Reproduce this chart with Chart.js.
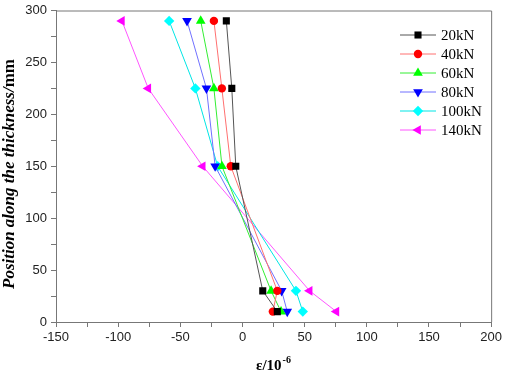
<!DOCTYPE html>
<html>
<head>
<meta charset="utf-8">
<script src="https://cdn.jsdelivr.net/npm/chart.js@4/dist/chart.umd.min.js"></script>
<style>
    html, body { margin: 0; padding: 0; background: #fff; }
    #wrap { width: 505px; height: 372px; position: relative; }
</style>
</head>
<body>
<div id="wrap"><canvas id="strainChart"></canvas></div>
<script>
// thickness positions (mm), top to bottom
const positions = [290, 225, 150, 30, 10];

// strain (x 10^-6) for each load
const strain20kN = [-13, -8.6, -5.4, 16.3, 28];
const strain40kN = [-23, -16.6, -9.4, 28, 24.4];
const strain60kN = [-33.6, -23, -16.5, 23, 31];
const strain80kN = [-44.6, -29, -22, 31.5, 36];
const strain100kN = [-59, -37.9, -20, 43, 48.5];
const strain140kN = [-97, -75.8, -32, 54, 75.5];

const loadLabels = ['20kN', '40kN', '60kN', '80kN', '100kN', '140kN'];

const xTicks = [-150, -100, -50, 0, 50, 100, 150, 200];
const yTicks = [0, 50, 100, 150, 200, 250, 300];

(function () {
    'use strict';

    const series = [strain20kN, strain40kN, strain60kN, strain80kN, strain100kN, strain140kN];
    const styles = [
        { line: '#555555', fill: '#000000', shape: 'rect', r: 5, rot: 0 },
        { line: '#ff7070', fill: '#ff0000', shape: 'circle', r: 4.2, rot: 0 },
        { line: '#33ee33', fill: '#00ff00', shape: 'triangle', r: 5.6, rot: 0 },
        { line: '#7070ff', fill: '#0000ff', shape: 'triangle', r: 5.6, rot: 180 },
        { line: '#00e5e5', fill: '#00ffff', shape: 'rectRot', r: 5.2, rot: 0 },
        { line: '#ff55ff', fill: '#ff00ff', shape: 'triangle', r: 5.6, rot: 270 }
    ];

    const datasets = series.map((vals, i) => ({
        label: loadLabels[i],
        data: vals.map((v, k) => ({ x: v, y: positions[k] })),
        showLine: true,
        borderColor: styles[i].line,
        borderWidth: 1,
        pointStyle: styles[i].shape,
        pointRotation: styles[i].rot,
        pointRadius: styles[i].r,
        pointBackgroundColor: styles[i].fill,
        pointBorderColor: styles[i].fill,
        pointBorderWidth: 0,
        tension: 0
    }));

    // frame, legend and axis titles
    const decorations = {
        id: 'decorations',
        afterDraw(chart) {
            const ctx = chart.ctx;
            const area = chart.chartArea;
            ctx.save();

            ctx.strokeStyle = '#777';
            ctx.lineWidth = 1;
            ctx.beginPath();
            ctx.moveTo(area.left, area.top + 0.5);
            ctx.lineTo(area.right + 0.5, area.top + 0.5);
            ctx.lineTo(area.right + 0.5, area.bottom);
            ctx.stroke();

            // legend
            styles.forEach((s, i) => {
                const y = 35 + i * 19;
                ctx.strokeStyle = s.line;
                ctx.lineWidth = 1;
                ctx.beginPath();
                ctx.moveTo(400, y);
                ctx.lineTo(436, y);
                ctx.stroke();
                ctx.fillStyle = s.fill;
                ctx.strokeStyle = s.fill;
                Chart.helpers.drawPoint(ctx, { pointStyle: s.shape, rotation: s.rot, radius: s.r, borderWidth: 0 }, 418, y);
                ctx.fillStyle = '#000';
                ctx.font = '15px "Liberation Serif", serif';
                ctx.textAlign = 'left';
                ctx.textBaseline = 'middle';
                ctx.fillText(loadLabels[i], 441, y + 1);
            });

            // y title, mixed style
            const partA = 'Position along the thickness/';
            const partB = 'mm';
            const fontA = 'italic bold 17px "Liberation Serif", serif';
            const fontB = 'bold 17px "Liberation Serif", serif';
            ctx.font = fontA;
            const wA = ctx.measureText(partA).width;
            ctx.font = fontB;
            const wB = ctx.measureText(partB).width;
            ctx.translate(14, 174);
            ctx.rotate(-Math.PI / 2);
            ctx.fillStyle = '#000';
            ctx.textBaseline = 'alphabetic';
            ctx.textAlign = 'left';
            const start = -(wA + wB) / 2;
            ctx.font = fontA;
            ctx.fillText(partA, start, 0);
            ctx.font = fontB;
            ctx.fillText(partB, start + wA, 0);
            ctx.setTransform(1, 0, 0, 1, 0, 0);

            // x title with superscript
            ctx.font = 'bold 15px "Liberation Serif", serif';
            const base = 'ε/10';
            const wBase = ctx.measureText(base).width;
            ctx.font = 'bold 10px "Liberation Serif", serif';
            const sup = '-6';
            const wSup = ctx.measureText(sup).width;
            const x0 = 273 - (wBase + wSup) / 2;
            ctx.font = 'bold 15px "Liberation Serif", serif';
            ctx.fillText(base, x0, 370);
            ctx.font = 'bold 10px "Liberation Serif", serif';
            ctx.fillText(sup, x0 + wBase + 1, 363);

            ctx.restore();
        }
    };

    document.addEventListener('DOMContentLoaded', function () {
        const canvas = document.getElementById('strainChart');
        new Chart(canvas.getContext('2d'), {
            type: 'scatter',
            data: { datasets: datasets },
            options: {
                responsive: true,
                maintainAspectRatio: false,
                animation: false,
                layout: { padding: { left: 0, right: 11, top: 0, bottom: 0 } },
                plugins: {
                    legend: { display: false },
                    tooltip: { enabled: false }
                },
                scales: {
                    x: {
                        type: 'linear',
                        min: xTicks[0],
                        max: xTicks[xTicks.length - 1],
                        afterFit(scale) { scale.height = 50; },
                        border: { color: '#777', width: 1 },
                        grid: { drawOnChartArea: false, drawTicks: true, tickLength: 5, color: '#777' },
                        ticks: {
                            stepSize: 25,
                            autoSkip: false,
                            maxRotation: 0,
                            padding: 3,
                            color: '#222',
                            font: { family: '"Liberation Sans", Arial, sans-serif', size: 13 },
                            callback: v => (xTicks.includes(v) ? v : '')
                        }
                    },
                    y: {
                        type: 'linear',
                        min: yTicks[0],
                        max: yTicks[yTicks.length - 1],
                        afterFit(scale) { scale.width = 56; },
                        border: { color: '#777', width: 1 },
                        grid: { drawOnChartArea: false, drawTicks: true, tickLength: 5, color: '#777' },
                        ticks: {
                            stepSize: 25,
                            autoSkip: false,
                            padding: 4,
                            color: '#222',
                            font: { family: '"Liberation Sans", Arial, sans-serif', size: 13, lineHeight: 1 },
                            callback: v => (yTicks.includes(v) ? v : '')
                        }
                    }
                }
            },
            plugins: [decorations]
        });
    });
})();
</script>
</body>
</html>
